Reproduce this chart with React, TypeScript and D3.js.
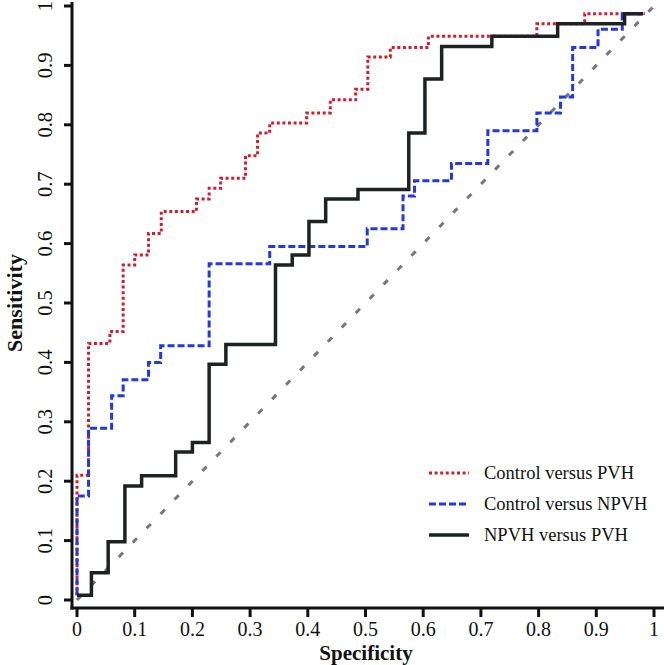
import React from "react";
import * as d3 from "d3";

const tickValues = [0, 0.1, 0.2, 0.3, 0.4, 0.5, 0.6, 0.7, 0.8, 0.9, 1];
const tickLabels = ["0", "0.1", "0.2", "0.3", "0.4", "0.5", "0.6", "0.7", "0.8", "0.9", "1"];

const seriesNames = ["Control versus PVH", "Control versus NPVH", "NPVH versus PVH"];

const pvhX = [0, 0, 0.02, 0.057, 0.08, 0.1, 0.124, 0.146, 0.207, 0.229, 0.249, 0.292, 0.313, 0.334, 0.398, 0.439, 0.483, 0.504, 0.543, 0.609, 0.797, 0.88, 0.984];
const pvhY = [0.008, 0.21, 0.432, 0.452, 0.564, 0.581, 0.617, 0.654, 0.675, 0.693, 0.71, 0.748, 0.786, 0.803, 0.82, 0.842, 0.86, 0.914, 0.93, 0.949, 0.97, 0.987, 0.987];

const npvhX = [0, 0, 0.02, 0.06, 0.08, 0.124, 0.145, 0.229, 0.334, 0.503, 0.565, 0.585, 0.649, 0.712, 0.797, 0.838, 0.859, 0.903, 0.945, 0.981];
const npvhY = [0.008, 0.175, 0.289, 0.344, 0.371, 0.4, 0.428, 0.566, 0.595, 0.625, 0.68, 0.706, 0.735, 0.79, 0.82, 0.847, 0.93, 0.961, 0.987, 0.987];

const npvhPvhX = [0, 0.025, 0.054, 0.083, 0.112, 0.171, 0.2, 0.229, 0.258, 0.344, 0.373, 0.402, 0.431, 0.487, 0.575, 0.603, 0.632, 0.719, 0.833, 0.949, 0.981];
const npvhPvhY = [0.008, 0.046, 0.098, 0.192, 0.209, 0.249, 0.265, 0.397, 0.43, 0.564, 0.581, 0.637, 0.675, 0.691, 0.786, 0.877, 0.932, 0.949, 0.97, 0.987, 0.987];

const diagX = [0, 1];
const diagY = [0, 1];

const FONT = "'Liberation Serif', 'Times New Roman', Times, serif";

const styles = [
  { color: "#d21c2d", dash: "3,2.6", width: 3 },
  { color: "#2238e0", dash: "7,3", width: 3 },
  { color: "#1e2222", dash: null as string | null, width: 3.5 },
];

export default function App() {
  const x = d3.scaleLinear().domain([0, 1]).range([77, 654]);
  const y = d3.scaleLinear().domain([0, 1]).range([600, 6]);

  const line = d3
    .line<[number, number]>()
    .x((d) => x(d[0]))
    .y((d) => y(d[1]))
    .curve(d3.curveStepAfter);
  const straight = d3
    .line<[number, number]>()
    .x((d) => x(d[0]))
    .y((d) => y(d[1]));

  const zip = (a: number[], b: number[]) => a.map((v, i) => [v, b[i]] as [number, number]);
  const series = [zip(pvhX, pvhY), zip(npvhX, npvhY), zip(npvhPvhX, npvhPvhY)];

  const axisX = 72;
  const axisY = 608;

  return (
    <svg
      width={664}
      height={665}
      style={{ position: "absolute", left: 0, top: 0, background: "#fff" }}
      fontFamily={FONT}
    >
      <rect x={0} y={0} width={664} height={665} fill="#fff" />
      <path
        d={straight(zip(diagX, diagY)) || ""}
        fill="none"
        stroke="#777"
        strokeWidth={3}
        strokeDasharray="6,14"
      />
      {series.map((s, i) => (
        <path
          key={i}
          d={line(s) || ""}
          fill="none"
          stroke={styles[i].color}
          strokeWidth={styles[i].width}
          strokeDasharray={styles[i].dash || undefined}
          strokeLinejoin="miter"
        />
      ))}
      <line x1={axisX} x2={axisX} y1={2} y2={axisY + 1.5} stroke="#111" strokeWidth={3} />
      <line x1={axisX - 1.5} x2={664} y1={axisY} y2={axisY} stroke="#111" strokeWidth={3} />
      {tickValues.map((v, i) => (
        <g key={"xt" + i}>
          <line x1={x(v)} x2={x(v)} y1={axisY} y2={axisY + 9} stroke="#111" strokeWidth={3} />
          <text x={x(v)} y={636} textAnchor="middle" fontSize={20} fill="#111">
            {tickLabels[i]}
          </text>
        </g>
      ))}
      {tickValues.map((v, i) => (
        <g key={"yt" + i}>
          <line x1={axisX - 8} x2={axisX} y1={y(v)} y2={y(v)} stroke="#111" strokeWidth={3} />
          <text
            transform={`translate(52, ${y(v)}) rotate(-90)`}
            textAnchor="middle"
            fontSize={20.5}
            fill="#111"
          >
            {tickLabels[i]}
          </text>
        </g>
      ))}
      <text x={366} y={660} textAnchor="middle" fontSize={21} fontWeight="bold" fill="#111">
        Specificity
      </text>
      <text
        transform={`translate(22, ${y(0.5)}) rotate(-90)`}
        textAnchor="middle"
        fontSize={22}
        fontWeight="bold"
        fill="#111"
      >
        Sensitivity
      </text>
      {seriesNames.map((name, i) => {
        const ly = 473 + i * 31;
        return (
          <g key={"lg" + i}>
            <line
              x1={429}
              x2={469}
              y1={ly}
              y2={ly}
              stroke={styles[i].color}
              strokeWidth={styles[i].width}
              strokeDasharray={styles[i].dash || undefined}
            />
            <text x={484} y={ly + 6} fontSize={18.5} fill="#111">
              {name}
            </text>
          </g>
        );
      })}
    </svg>
  );
}
